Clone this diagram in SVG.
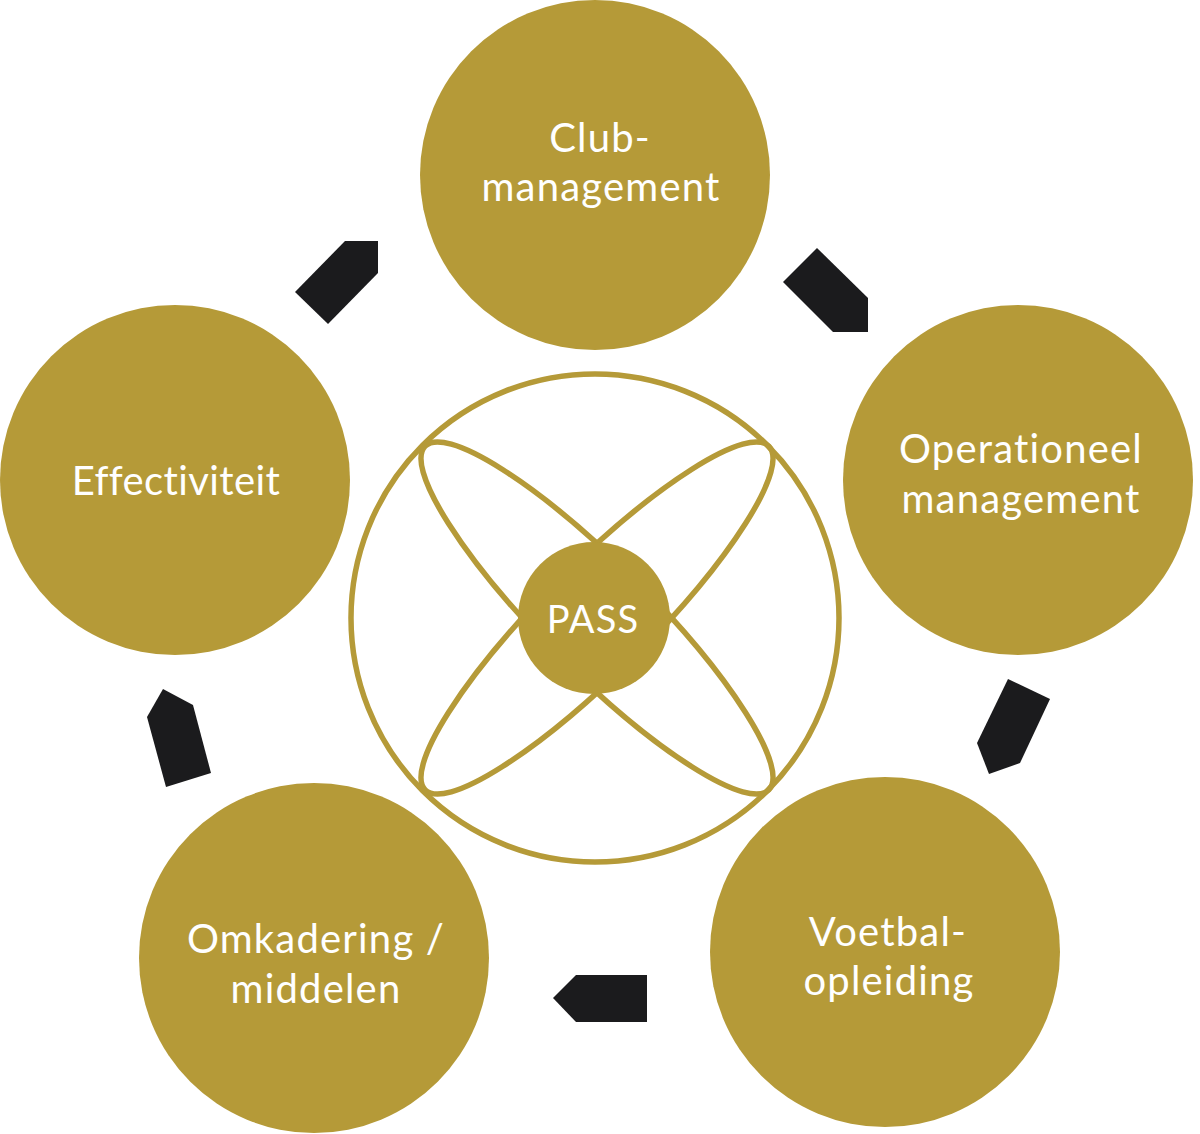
<svg xmlns="http://www.w3.org/2000/svg" width="1200" height="1134" viewBox="0 0 1200 1134">
<style>
.node{fill:#B59A38}
.lbl{fill:#ffffff;font-family:Lato,"Noto Sans","DejaVu Sans",sans-serif;font-size:40px;text-anchor:middle;letter-spacing:1.2px}
.ring{fill:none;stroke:#B59A38;stroke-width:5.5}
.arrow{fill:#1b1b1d}
</style>
<rect width="1200" height="1134" fill="#ffffff"/>
<g id="center">
<circle class="ring" cx="595" cy="618" r="244"/>
<ellipse class="ring" cx="597" cy="618" rx="243" ry="54" transform="rotate(45 597 618)"/>
<ellipse class="ring" cx="597" cy="618" rx="243" ry="54" transform="rotate(-45 597 618)"/>
<circle class="node" cx="594" cy="618" r="76"/>
<text class="lbl" x="593" y="633" style="font-size:38px">PASS</text>
</g>
<g id="club">
<circle class="node" cx="595" cy="175" r="175"/>
<text class="lbl" x="600" y="152">Club-</text>
<text class="lbl" x="601" y="201">management</text>
</g>
<g id="operationeel">
<circle class="node" cx="1018" cy="480" r="175"/>
<text class="lbl" x="1021" y="463">Operationeel</text>
<text class="lbl" x="1021" y="513">management</text>
</g>
<g id="voetbal">
<circle class="node" cx="885" cy="952" r="175"/>
<text class="lbl" x="888" y="946">Voetbal-</text>
<text class="lbl" x="889" y="995">opleiding</text>
</g>
<g id="omkadering">
<circle class="node" cx="314" cy="958" r="175"/>
<text class="lbl" x="316" y="953">Omkadering /</text>
<text class="lbl" x="316" y="1003">middelen</text>
</g>
<g id="effectiviteit">
<circle class="node" cx="175" cy="480" r="175"/>
<text class="lbl" x="176" y="495" style="letter-spacing:0.4px">Effectiviteit</text>
</g>
<g id="connectors">
<polygon class="arrow" points="345,241 378,241 378,273 328,324 295,292"/>
<polygon class="arrow" points="817,248 868,298 868,332 833,332 783,282"/>
<polygon class="arrow" points="1008,679 1050,699 1020,763 989,774 977,743"/>
<polygon class="arrow" points="576,975 647,975 647,1022 576,1022 553,998"/>
<polygon class="arrow" points="163,689 193,705 211,773 166,787 147,717"/>
</g>
</svg>
